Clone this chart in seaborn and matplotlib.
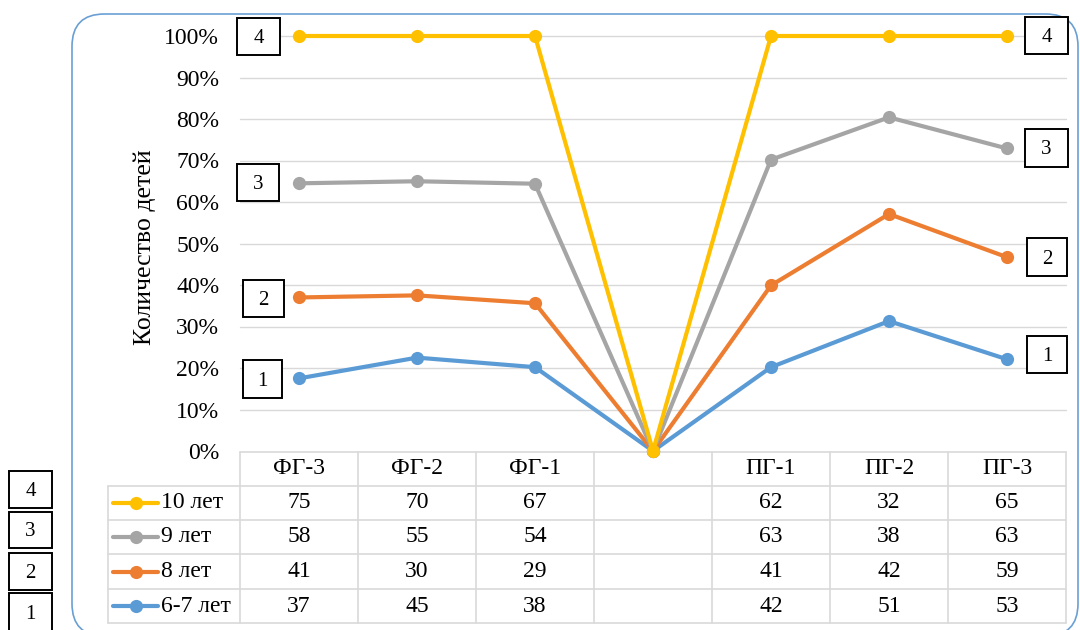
import matplotlib
matplotlib.use('Agg')
import matplotlib.pyplot as plt
import matplotlib.transforms as mtransforms
from matplotlib.patches import FancyBboxPatch, Rectangle
from matplotlib.lines import Line2D
import seaborn as sns
import pandas as pd

# ---------------- data ----------------
categories = ['ФГ-3', 'ФГ-2', 'ФГ-1', '', 'ПГ-1', 'ПГ-2', 'ПГ-3']
series_names = ['10 лет', '9 лет', '8 лет', '6-7 лет']
# table counts (blank middle column)
counts_10 = [75, 70, 67, None, 62, 32, 65]
counts_9 = [58, 55, 54, None, 63, 38, 63]
counts_8 = [41, 30, 29, None, 41, 42, 59]
counts_67 = [37, 45, 38, None, 42, 51, 53]
# plotted (cumulative) shares, %
pct_10 = [100, 100, 100, 0, 100, 100, 100]
pct_9 = [64.5, 65.0, 64.4, 0, 70.2, 80.4, 72.9]
pct_8 = [37.0, 37.5, 35.6, 0, 39.9, 57.1, 46.7]
pct_67 = [17.5, 22.5, 20.2, 0, 20.2, 31.3, 22.1]
y_ticks = [0, 10, 20, 30, 40, 50, 60, 70, 80, 90, 100]
box_labels = ['4', '3', '2', '1']

colors = {'10 лет': '#FFC000', '9 лет': '#A5A5A5', '8 лет': '#ED7D31', '6-7 лет': '#5B9BD5'}
counts = {'10 лет': counts_10, '9 лет': counts_9, '8 лет': counts_8, '6-7 лет': counts_67}
pcts = {'10 лет': pct_10, '9 лет': pct_9, '8 лет': pct_8, '6-7 лет': pct_67}

rows = []
for name in series_names:
    for i, v in enumerate(pcts[name]):
        rows.append({'pos': i, 'val': v / 100.0, 'age': name})
df = pd.DataFrame(rows)

# ---------------- style ----------------
sns.set_theme(style='white')
plt.rcParams['font.family'] = ['Liberation Serif', 'DejaVu Serif']

W, H = 1080, 630
fig = plt.figure(figsize=(W / 100, H / 100), dpi=100)
fig.patch.set_facecolor('white')
FS = 17

def fx(px):
    return px / W

def fy(py):
    return 1 - py / H

# rounded frame
frame = FancyBboxPatch((fx(72), fy(636)), fx(1078) - fx(72), fy(14) - fy(636),
                       boxstyle='round,pad=0,rounding_size=0.03',
                       transform=fig.transFigure, fill=False,
                       edgecolor='#6A9FD4', lw=1.2, mutation_aspect=W / H)
fig.patches.append(frame)

ax = fig.add_axes([fx(240), fy(451), fx(1066) - fx(240), fy(36) - fy(451)])
ax.set_xlim(-0.5, len(categories) - 0.5)
ax.set_ylim(0, 1)

for y in y_ticks[1:]:
    ax.axhline(y / 100, color='#D9D9D9', lw=1, zorder=0)

order = ['6-7 лет', '8 лет', '9 лет', '10 лет']
sns.lineplot(data=df, x='pos', y='val', hue='age', hue_order=order,
             palette=colors, marker='o', markersize=9.5, markeredgewidth=0,
             linewidth=3, legend=False, ax=ax, clip_on=False, zorder=3)
for ln in ax.lines:
    ln.set_clip_on(False)

ax.set_yticks([t / 100 for t in y_ticks])
ax.set_yticklabels([f'{t}%' for t in y_ticks], fontsize=FS, color='#000000')
ax.tick_params(axis='y', length=0, pad=15)
ax.set_xticks([])
ax.set_xlabel('')
ax.set_ylabel('')
for s in ax.spines.values():
    s.set_visible(False)

fig.text(fx(145), fy(247), 'Количество детей', rotation=90, ha='center',
         va='center', fontsize=18.5, color='#000000')

# ---------------- data table ----------------
trans = mtransforms.blended_transform_factory(ax.transData, ax.transAxes)
ax_h = 451 - 36

def ay(py):
    return (451 - py) / ax_h

grid_c = '#D9D9D9'
row_edges = [452, 486, 520, 554, 589, 623]
left_x = -0.5 - (240 - 108) / 118.0
ncol = len(categories)

# horizontal lines
ax.add_line(Line2D([-0.5, ncol - 0.5], [ay(row_edges[0])] * 2, transform=trans,
                   color=grid_c, lw=1.2, clip_on=False))
for py in row_edges[1:]:
    ax.add_line(Line2D([left_x, ncol - 0.5], [ay(py)] * 2, transform=trans,
                       color=grid_c, lw=1.2, clip_on=False))
# vertical lines
for i in range(ncol + 1):
    ax.add_line(Line2D([i - 0.5, i - 0.5], [ay(row_edges[0]), ay(row_edges[-1])],
                       transform=trans, color=grid_c, lw=1.2, clip_on=False))
ax.add_line(Line2D([left_x, left_x], [ay(row_edges[1]), ay(row_edges[-1])],
                   transform=trans, color=grid_c, lw=1.2, clip_on=False))

# header
for i, c in enumerate(categories):
    ax.text(i, ay((row_edges[0] + row_edges[1]) / 2), c, transform=trans,
            ha='center', va='center', fontsize=FS, color='#000000')

# rows
px2d = lambda px: (px - 240) / 118.0 - 0.5
for r, name in enumerate(series_names):
    yc = ay((row_edges[r + 1] + row_edges[r + 2]) / 2)
    ax.add_line(Line2D([px2d(113), px2d(158)], [yc, yc], transform=trans,
                       color=colors[name], lw=3, clip_on=False))
    ax.add_line(Line2D([px2d(136)], [yc], transform=trans, marker='o',
                       markersize=9.5, markeredgewidth=0, color=colors[name],
                       clip_on=False))
    ax.text(px2d(161), yc, name, transform=trans, ha='left', va='center',
            fontsize=FS, color='#000000')
    for i, v in enumerate(counts[name]):
        if v is not None:
            ax.text(i, yc, str(v), transform=trans, ha='center', va='center',
                    fontsize=FS, color='#000000')

# ---------------- numbered boxes ----------------
def box(x0, y0, x1, y1, label):
    rect = Rectangle((fx(x0), fy(y1)), fx(x1) - fx(x0), fy(y0) - fy(y1),
                     transform=fig.transFigure, fill=True, facecolor='white',
                     edgecolor='black', lw=1.4, zorder=10)
    fig.patches.append(rect)
    fig.text(fx((x0 + x1) / 2), fy((y0 + y1) / 2 + 2), label, ha='center',
             va='center', fontsize=15, color='black', zorder=11)

box(237, 18, 280, 55, box_labels[0])
box(237, 164, 279, 201, box_labels[1])
box(243, 280, 284, 317, box_labels[2])
box(243, 360, 282, 398, box_labels[3])
box(1025, 17, 1068, 54, box_labels[0])
box(1025, 129, 1068, 167, box_labels[1])
box(1027, 238, 1067, 276, box_labels[2])
box(1027, 336, 1067, 373, box_labels[3])
box(9, 471, 52, 508, box_labels[0])
box(9, 512, 52, 548, box_labels[1])
box(9, 553, 52, 590, box_labels[2])
box(9, 593, 52, 632, box_labels[3])

fig.savefig('out.png', dpi=100, facecolor='white')
